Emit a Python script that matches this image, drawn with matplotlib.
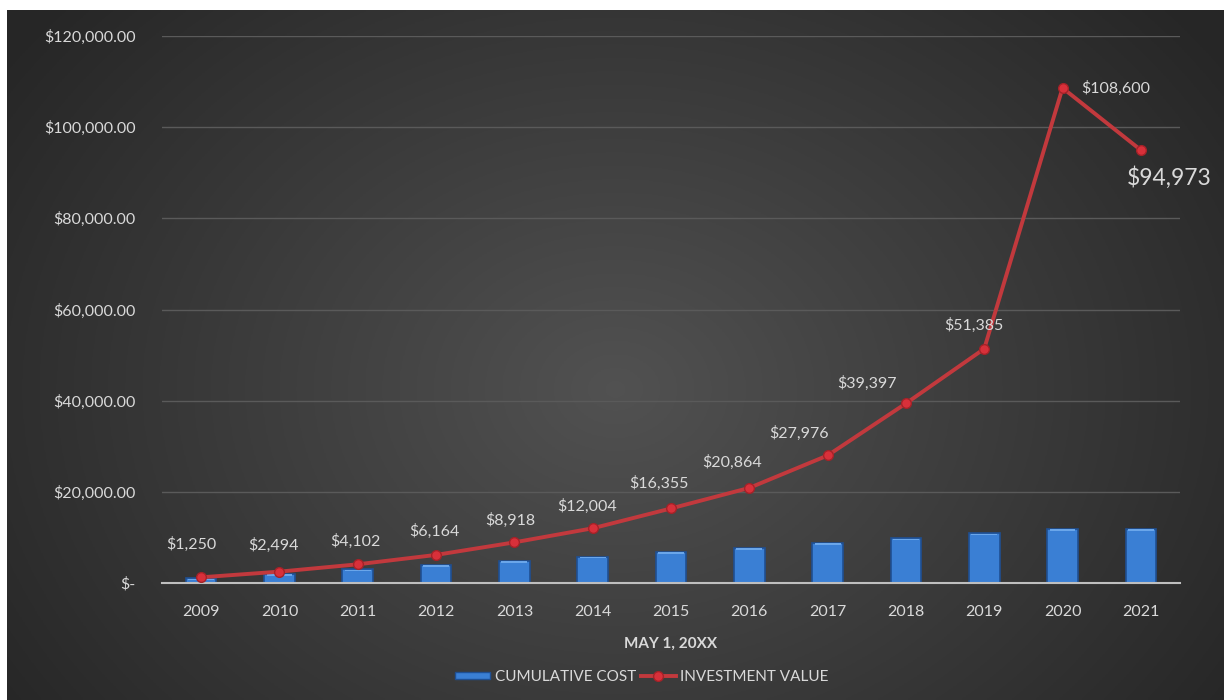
import numpy as np
import matplotlib
matplotlib.use('Agg')
from matplotlib import pyplot as plt
from matplotlib.patches import Patch
from matplotlib.lines import Line2D

plt.rcParams['font.family'] = ['Lato', 'DejaVu Sans']

years = ['2009', '2010', '2011', '2012', '2013', '2014', '2015',
         '2016', '2017', '2018', '2019', '2020', '2021']
cumulative_cost = [1000, 2000, 3000, 3900, 4850, 5800, 6850,
                   7750, 8850, 9800, 10900, 11850, 11850]
investment_value = [1250, 2494, 4102, 6164, 8918, 12004, 16355,
                    20864, 27976, 39397, 51385, 108600, 94973]
y_ticks = [0, 20000, 40000, 60000, 80000, 100000, 120000]

# label offsets in pixels (dx, dy) from each point
label_offsets = [(-10, 33), (-6, 26), (-2, 23), (-2, 24), (-4, 22), (-6, 22),
                 (-12, 25), (-17, 26), (-29, 22), (-39, 20), (-10, 23)]

W, H = 1224, 700
fig = plt.figure(figsize=(W / 100, H / 100), dpi=100, facecolor='white')

# dark radial gradient background
bg = fig.add_axes([7 / W, 0, 1 - 7 / W, 1 - 10 / H])
bg.set_axis_off()
gx, gy = np.meshgrid(np.linspace(0, 1, 400), np.linspace(0, 1, 240))
d = np.sqrt(((gx - 0.5) / 0.72) ** 2 + ((gy - 0.55) / 1.0) ** 2)
shade = np.clip(0.32 - 0.2 * d, 0.15, 0.33)
bg.imshow(np.dstack([shade, shade, shade]), aspect='auto',
          extent=[0, 1, 0, 1], origin='upper')

ax = fig.add_axes([162 / W, 1 - 583 / H, (1180 - 162) / W, (583 - 36) / H])
ax.set_facecolor('none')

x = np.arange(len(years))
ax.bar(x, cumulative_cost, width=0.39, color='#3a7fd4',
       edgecolor='#1f4f92', linewidth=1.2, zorder=2)
# lighter top band on the bars
band = 350
ax.bar(x, [band] * len(x), bottom=np.array(cumulative_cost) - band - 60,
       width=0.33, color='#6aa6ea', linewidth=0, zorder=2.1)

ax.plot(x, investment_value, color='#c2393d', lw=2.8, zorder=3,
        marker='o', markersize=7, markerfacecolor='#d8303a',
        markeredgecolor='#a52228', markeredgewidth=1)

label_color = '#d9d9d9'
for i, v in enumerate(investment_value):
    txt = f"${v:,.0f}"
    if i < len(label_offsets):
        dx, dy = label_offsets[i]
        ax.annotate(txt, (x[i], v), xytext=(dx, dy), textcoords='offset pixels',
                    ha='center', va='center', color=label_color, fontsize=11.5)
    elif i == 11:
        ax.annotate(txt, (x[i], v), xytext=(19, 0), textcoords='offset pixels',
                    ha='left', va='center', color=label_color, fontsize=11.5)
    else:
        ax.annotate(txt, (x[i], v), xytext=(28, -27), textcoords='offset pixels',
                    ha='center', va='center', color=label_color, fontsize=16.5)

ax.set_xlim(-0.5, len(years) - 0.5)
ax.set_ylim(0, 120000)
ax.set_xticks(x)
ax.set_xticklabels(years)
ax.set_yticks(y_ticks)
ax.set_yticklabels(['$-' if t == 0 else f"${t:,.2f}" for t in y_ticks])
ax.tick_params(axis='both', length=0, colors=label_color, labelsize=11.5)
ax.tick_params(axis='y', pad=19)
ax.tick_params(axis='x', pad=16)

ax.grid(axis='y', color='#5a5a5a', lw=1, zorder=0)
ax.set_axisbelow(True)
for s in ['top', 'right', 'left']:
    ax.spines[s].set_visible(False)
ax.spines['bottom'].set_color('#bfbfbf')
ax.spines['bottom'].set_linewidth(1.5)
ax.spines['bottom'].set_zorder(2.5)

ax.set_xlabel('MAY 1, 20XX', color=label_color, fontsize=11, fontweight='bold',
              labelpad=13)

handles = [Patch(facecolor='#3a7fd4', edgecolor='#1f4f92'),
           Line2D([], [], color='#c2393d', lw=2.8, marker='o', markersize=7,
                  markerfacecolor='#d8303a', markeredgecolor='#a52228')]
leg = fig.legend(handles, ['CUMULATIVE COST', 'INVESTMENT VALUE'],
                 loc='center', bbox_to_anchor=(642 / W, 1 - 677 / H), ncol=2,
                 frameon=False, fontsize=11, handlelength=2.3, handleheight=0.35,
                 handletextpad=0.3, columnspacing=0.3)
for t in leg.get_texts():
    t.set_color(label_color)

fig.savefig('out.png', dpi=100, facecolor=fig.get_facecolor())
